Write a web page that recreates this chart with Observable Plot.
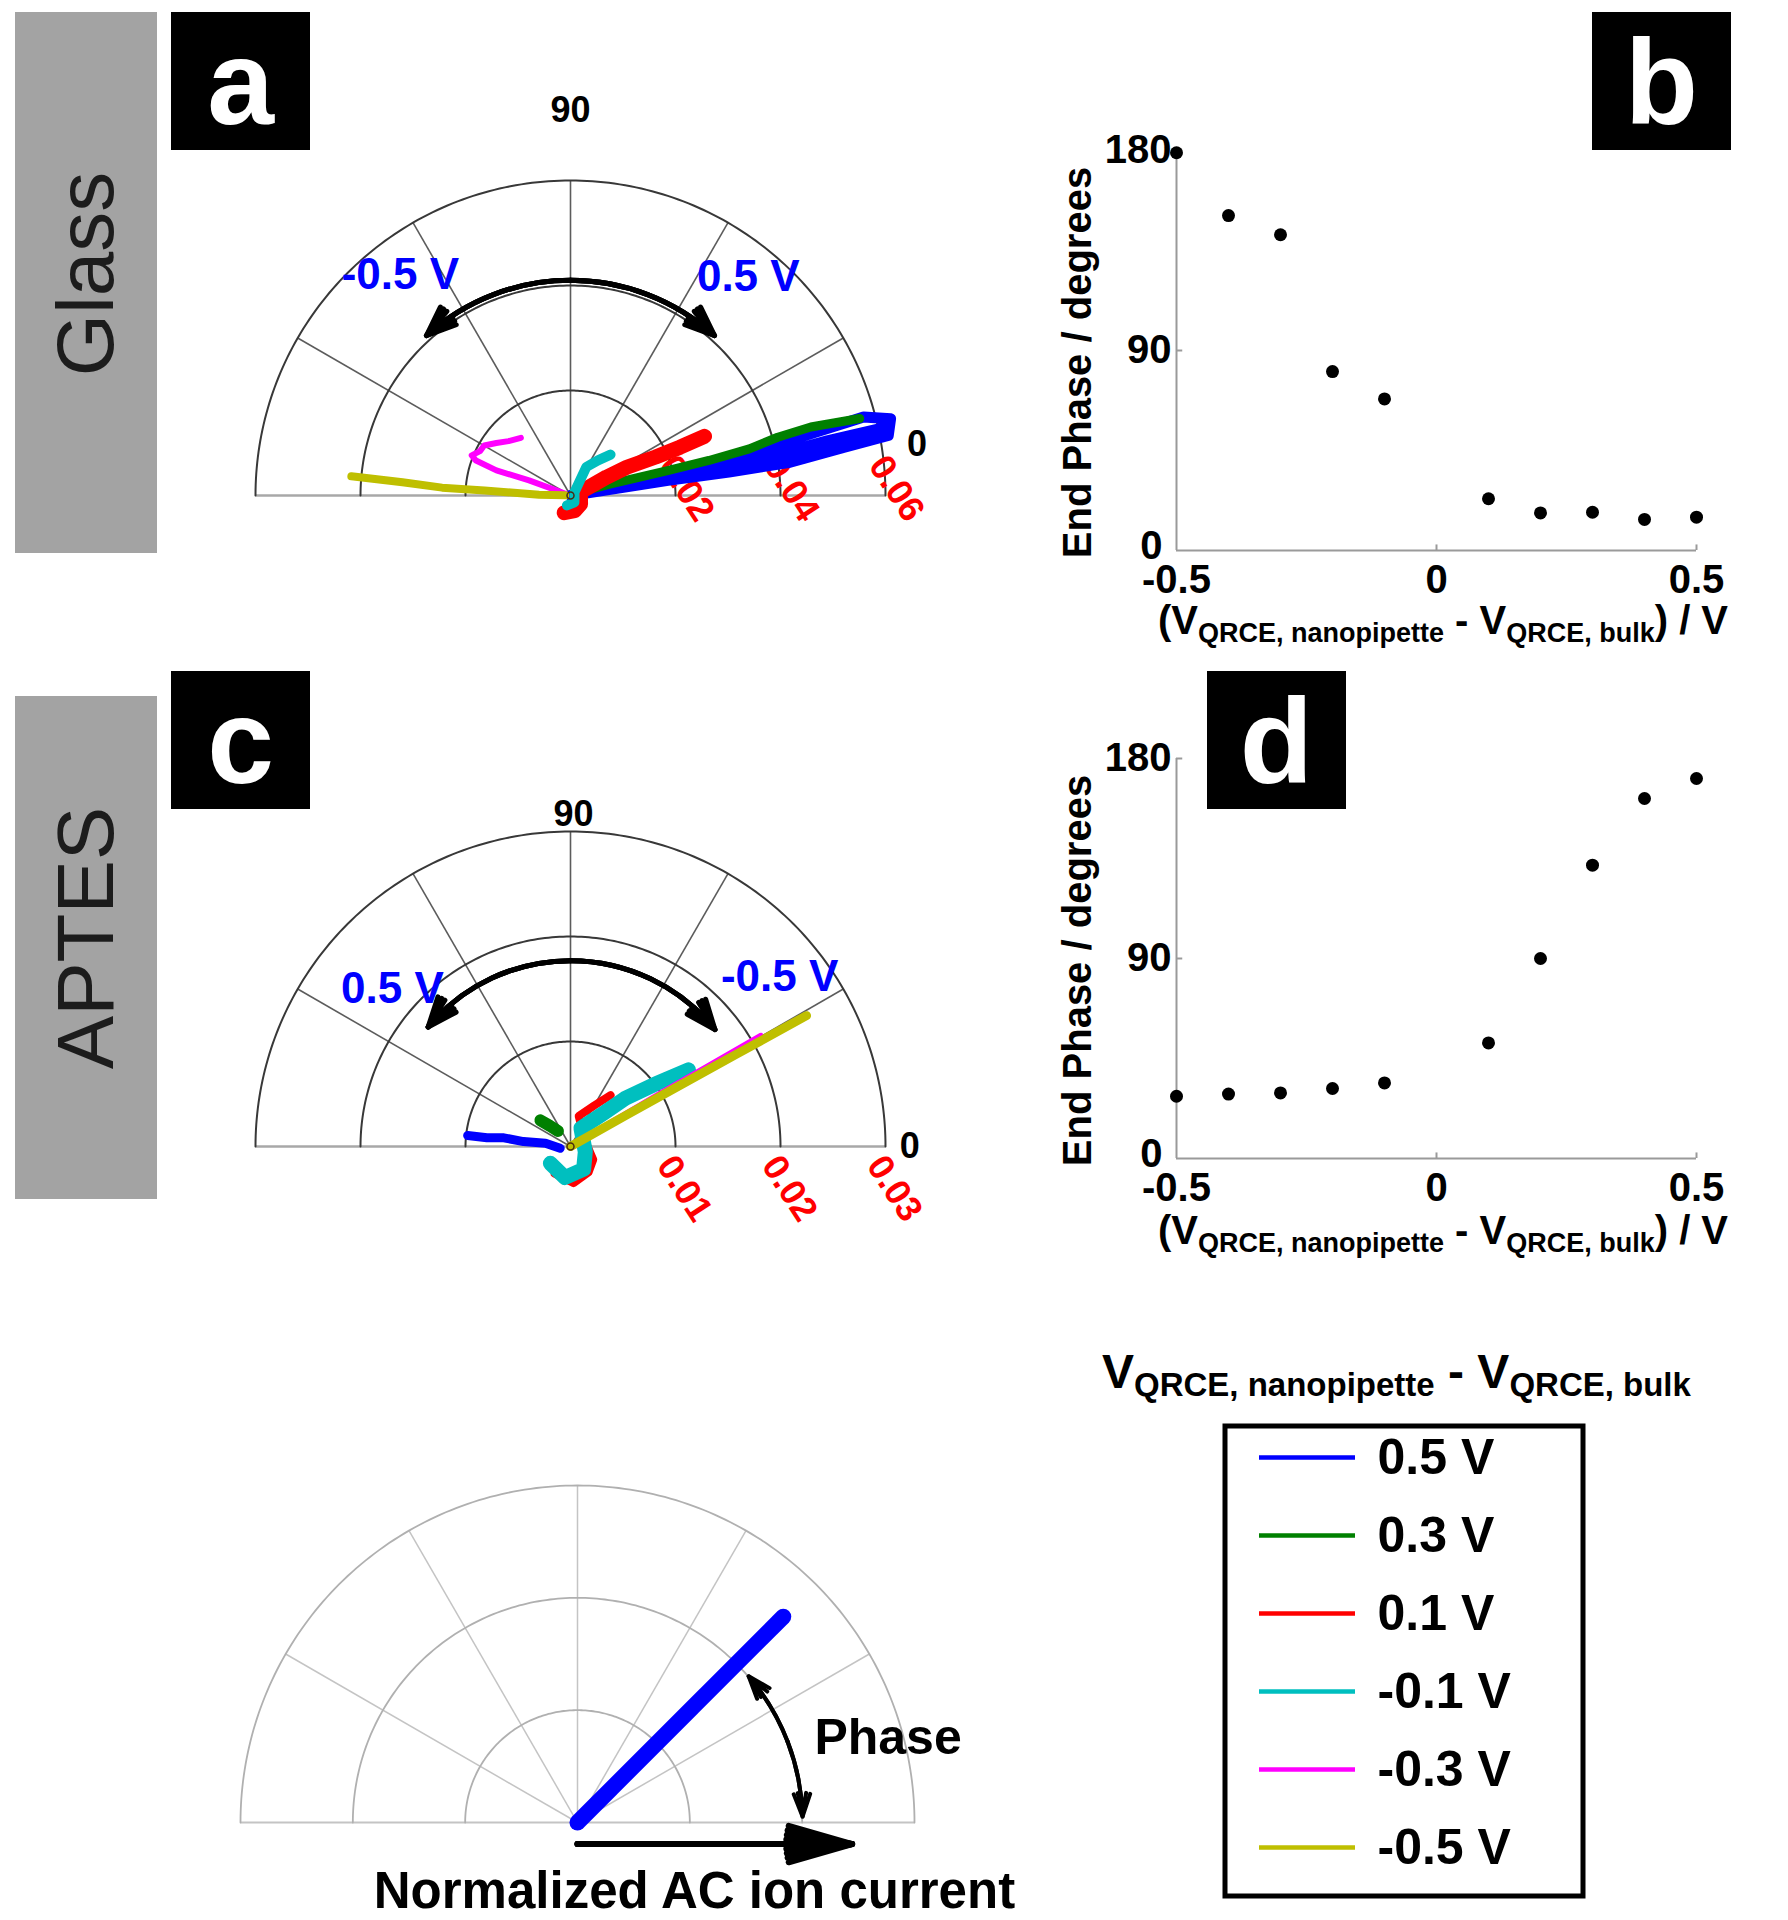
<!DOCTYPE html>
<html><head><meta charset="utf-8">
<script src="https://cdn.jsdelivr.net/npm/d3@7"></script>
<script src="https://cdn.jsdelivr.net/npm/@observablehq/plot@0.6"></script>
<style>
body{margin:0;background:#fff;}
#page{position:relative;width:1788px;height:1920px;overflow:hidden;background:#fff;font-family:"Liberation Sans",Arial,sans-serif;}
.side{position:absolute;background:#a3a3a3;}
.sideText{position:absolute;font-size:80px;color:#1c1c1c;white-space:nowrap;line-height:1;transform:translate(-50%,-50%) rotate(-90deg);}
.tag{position:absolute;background:#000;}
.tag span{position:absolute;left:50%;transform:translateX(-50%);line-height:1;color:#fff;font-weight:bold;font-size:120px;}
.lbl{position:absolute;font-weight:bold;white-space:nowrap;line-height:1;color:#000;}
</style></head><body><div id="page"></div>
<script>
// ---------- data ----------
const seriesLabels = ["0.5 V", "0.3 V", "0.1 V", "-0.1 V", "-0.3 V", "-0.5 V"];
const seriesColors = ["#0000ff", "#008000", "#ff0000", "#00bfbf", "#ff00ff", "#bfbf00"];

// Panel a (Glass): [normalized AC ion current, phase (deg)]
const glassTrace05  = [[0,10],[0.0188,8.8],[0.0305,8.4],[0.0423,8.6],[0.0528,10],[0.0616,10.7],[0.0627,13.5],[0.0578,15],[0.0472,14.4],[0.035,13.6],[0.0228,12],[0.012,10.5],[0.025,10.2],[0.038,11],[0.05,12],[0.061,12.2]];
const glassTrace03  = [[0.002,20],[0.008,16],[0.0191,14.4],[0.0272,14.2],[0.0352,14.6],[0.041,15.7],[0.0476,15.9],[0.057,14.9]];
const glassTrace01  = [[0.0035,250],[0.003,285],[0.0025,320],[0.002,20],[0.0077,27],[0.012,26.6],[0.0178,24.3],[0.0228,23.8],[0.0279,23.8]];
const glassTraceM01 = [[0.002,250],[0.0015,300],[0.001,40],[0.0062,61],[0.0085,52],[0.0109,45.6]];
const glassTraceM03 = [[0.001,160],[0.0084,160],[0.0149,161.3],[0.0192,159.7],[0.0203,157.9],[0.0192,153.9],[0.019,149.9],[0.0173,144.7],[0.0157,138.7],[0.0145,130.7]];
const glassTraceM05 = [[0.001,178],[0.006,178.5],[0.0164,176.7],[0.0245,176.5],[0.0321,175.5],[0.0419,175]];

// Panel c (APTES)
const aptesTrace05  = [[0.001,190],[0.0024,172.5],[0.0045,174],[0.0064,172.6],[0.008,174],[0.00985,173.9]];
const aptesTrace03  = [[0.0019,129],[0.0028,135],[0.0038,139]];
const aptesTrace01  = [[0.003,240],[0.0035,275],[0.003,305],[0.0025,330],[0.0015,20],[0.003,75],[0.0045,60],[0.0062,52]];
const aptesTraceM01 = [[0.0025,220],[0.003,260],[0.0025,300],[0.0015,340],[0.002,60],[0.0045,45],[0.0069,41.4],[0.01,36.4],[0.0134,33]];
const aptesTraceM03 = [[0,31],[0.005,31],[0.01,30.8],[0.015,30.5],[0.021,30.3]];
const aptesTraceM05 = [[0,29],[0.006,29.3],[0.012,29.2],[0.018,29.1],[0.0257,29]];

// Panels b, d
const biasV = [-0.5, -0.4, -0.3, -0.2, -0.1, 0.1, 0.2, 0.3, 0.4, 0.5];
const glassEndPhase = [179, 150.7, 142.1, 80.5, 68.2, 23.3, 16.9, 17.2, 14.0, 15.0];
const aptesEndPhase = [28, 29, 29.5, 31.5, 34, 52, 90, 132, 162, 171];

// ticks / grids
const glassRings = [0.02, 0.04, 0.06];
const aptesRings = [0.01, 0.02, 0.03];
const schematicRings = [1/3, 2/3, 1];
const spokeAngles = [30, 60, 90, 120, 150];
const phaseTicks = [90, 180];
const phaseZeroTick = [0];
const biasTicks = [-0.5, 0, 0.5];

// schematic example vector
const exampleVector = [{r: 0.8635, phase: 45}];

// ---------- helpers ----------
const FONT = "'Liberation Sans', Arial, sans-serif";
const page = document.getElementById("page");
const deg = Math.PI / 180;
const px = (r, t) => r * Math.cos(t * deg);
const py = (r, t) => r * Math.sin(t * deg);
const colorScale = {domain: seriesLabels, range: seriesColors};
const BEND = 1;

function place(node, left, top) {
  node.style.position = "absolute";
  node.style.left = left + "px";
  node.style.top = top + "px";
  page.appendChild(node);
}
function div(cls, left, top, w, h) {
  const d = document.createElement("div");
  d.className = cls;
  d.style.left = left + "px";
  d.style.top = top + "px";
  if (w != null) d.style.width = w + "px";
  if (h != null) d.style.height = h + "px";
  page.appendChild(d);
  return d;
}
function addLabel(parts, o) {
  const d = document.createElement("div");
  d.className = "lbl";
  d.style.fontSize = o.size + "px";
  d.style.left = o.left + "px";
  d.style.top = (o.baseline - 0.8465 * o.size) + "px";
  if (o.center) d.style.transform = "translateX(-50%)";
  parts.forEach(([txt, isSub]) => {
    const s = document.createElement("span");
    s.textContent = txt;
    if (isSub) { s.style.fontSize = o.subSize + "px"; s.style.position = "relative"; s.style.top = o.subShift + "px"; }
    d.appendChild(s);
  });
  page.appendChild(d);
}
function frameDomains(o) {
  const k = o.rPx / o.rMax;
  return {
    x: {domain: [(o.left - o.cx) / k, (o.left + o.width - o.cx) / k], axis: null},
    y: {domain: [(o.cy - o.top - o.height) / k, (o.cy - o.top) / k], axis: null}
  };
}
function gridMarks(R, rings, st) {
  const ringRows = rings.flatMap(r => d3.range(0, 181, 1).map(t => ({r, t})));
  return [
    Plot.link([R], {x1: r => -r, y1: 0, x2: r => r, y2: 0, stroke: st.axis, strokeWidth: st.axisW}),
    Plot.link(spokeAngles, {x1: 0, y1: 0, x2: t => px(R, t), y2: t => py(R, t), stroke: st.spoke, strokeWidth: st.spokeW}),
    Plot.line(ringRows, {x: d => px(d.r, d.t), y: d => py(d.r, d.t), z: "r", stroke: st.ring, strokeWidth: st.ringW})
  ];
}
function arcArrow(r, tFrom, tTo, opts) {
  const heads = opts.headAngles || [opts.headAngle || 60];
  return heads.map(h => Plot.arrow([{r, tFrom, tTo}], {
    x1: d => px(d.r, d.tFrom), y1: d => py(d.r, d.tFrom),
    x2: d => px(d.r, d.tTo), y2: d => py(d.r, d.tTo),
    bend: BEND * (tFrom - tTo) / 2, stroke: "black", strokeWidth: opts.sw,
    headLength: opts.headLength, headAngle: h
  }));
}

function polarPanel(o) {
  const R = o.rMax;
  const marks = gridMarks(R, o.rings, {axis: "#a8a8a8", axisW: 2.5, spoke: "#5c5c5c", spokeW: 1.6, ring: "#383838", ringW: 2});
  marks.push(Plot.text(o.rings, {x: r => r, y: 0, text: r => String(r), rotate: 57, dx: o.ringDx, dy: o.ringDy,
    fill: "#ff0000", fontSize: 36, fontWeight: "bold"}));
  o.traces.forEach(tr => marks.push(Plot.line(tr.points, {
    x: d => px(d[0], d[1]), y: d => py(d[0], d[1]), stroke: () => tr.label,
    strokeWidth: tr.width, strokeLinejoin: "round", strokeLinecap: "round"
  })));
  marks.push(Plot.dot([0], {x: 0, y: 0, r: 3.5, stroke: "#4a2a10", strokeWidth: 1.5, fill: "none"}));
  marks.push(Plot.text(o.angleLabels, {x: d => px(d.r, d.t), y: d => py(d.r, d.t), text: "text", fontSize: 36, fontWeight: "bold", fill: "black"}));
  marks.push(Plot.text(o.voltLabels, {x: d => px(d.r, d.t), y: d => py(d.r, d.t), text: "text", fontSize: 44, fontWeight: "bold", fill: "#0000ff"}));
  const A = o.arrow;
  marks.push(...arcArrow(A.r, A.tMid, A.tRight, {sw: 5, headLength: 9.5, headAngles: [16, 30, 44]}));
  marks.push(...arcArrow(A.r, A.tMid, A.tLeft, {sw: 5, headLength: 9.5, headAngles: [16, 30, 44]}));
  const dom = frameDomains(o);
  const chart = Plot.plot({
    width: o.width, height: o.height, margin: 0, x: dom.x, y: dom.y, color: colorScale,
    style: {fontFamily: FONT, overflow: "visible", background: "transparent"}, marks
  });
  place(chart, o.left, o.top);
}

function scatterPanel(o) {
  const rows = biasV.map((v, i) => ({v, phase: o.values[i]}));
  const chart = Plot.plot({
    width: 788, height: 560, marginLeft: 176, marginRight: 92, marginTop: o.mt, marginBottom: 560 - o.mt - 400,
    x: {domain: [-0.5, 0.5]}, y: {domain: [0, 180]},
    style: {fontFamily: FONT, fontSize: "40px", fontWeight: "bold", overflow: "visible", background: "transparent"},
    marks: [
      Plot.ruleY([0], {stroke: "#9a9a9a", strokeWidth: 2}),
      Plot.ruleX([-0.5], {stroke: "#9a9a9a", strokeWidth: 2}),
      Plot.ruleX([0, 0.5], {y1: 0, y2: 2.5, stroke: "#9a9a9a", strokeWidth: 2}),
      Plot.ruleY([90, 180], {x1: -0.5, x2: -0.488, stroke: "#9a9a9a", strokeWidth: 2}),
      Plot.axisX({ticks: biasTicks, tickFormat: d => String(d), tickSize: 0, tickPadding: 14, fontSize: 40, fontWeight: "bold", label: null}),
      Plot.axisY({ticks: phaseTicks, tickFormat: d => String(d), tickSize: 0, tickPadding: 5, fontSize: 40, fontWeight: "bold", label: null}),
      Plot.axisY({ticks: phaseZeroTick, tickFormat: d => String(d), tickSize: 0, tickPadding: 14, dy: -4, fontSize: 40, fontWeight: "bold", label: null}),
      Plot.dot(rows, {x: "v", y: "phase", r: 6.5, fill: "black"}),
      Plot.text(["End Phase / degrees"], {text: d => d, frameAnchor: "left", textAnchor: "middle", dx: -98, dy: 12, rotate: -90, fontSize: 40, fontWeight: "bold"})
    ]
  });
  place(chart, 1000, o.top);
  addLabel([["(V", false], ["QRCE, nanopipette", true], [" - V", false], ["QRCE, bulk", true], [") / V", false]],
    {left: 1443, baseline: o.xlabBase, size: 40, subSize: 27, subShift: 8, center: true});
}

// ---------- side boxes ----------
div("side", 15, 12, 142, 541);
div("side", 15, 696, 142, 503);
div("sideText", 86, 274).textContent = "Glass";
div("sideText", 86, 938).textContent = "APTES";

// ---------- panels ----------
polarPanel({
  left: 160, top: 60, width: 830, height: 500, cx: 570, cy: 495, rPx: 315, rMax: 0.06,
  rings: glassRings, ringDx: 11, ringDy: -7,
  traces: [
    {label: seriesLabels[0], points: glassTrace05, width: 11},
    {label: seriesLabels[1], points: glassTrace03, width: 9},
    {label: seriesLabels[2], points: glassTrace01, width: 15},
    {label: seriesLabels[3], points: glassTraceM01, width: 10},
    {label: seriesLabels[4], points: glassTraceM03, width: 6},
    {label: seriesLabels[5], points: glassTraceM05, width: 8}
  ],
  angleLabels: [{text: "90", r: 0.0733, t: 90}, {text: "0", r: 0.0667, t: 8.4}],
  voltLabels: [{text: "-0.5 V", r: 0.0531, t: 127.6}, {text: "0.5 V", r: 0.0537, t: 50.9}],
  arrow: {r: 0.041, tMid: 90, tRight: 48, tLeft: 132}
});
polarPanel({
  left: 160, top: 770, width: 830, height: 500, cx: 570, cy: 1146, rPx: 315, rMax: 0.03,
  rings: aptesRings, ringDx: 9, ringDy: 42,
  traces: [
    {label: seriesLabels[0], points: aptesTrace05, width: 9},
    {label: seriesLabels[1], points: aptesTrace03, width: 12},
    {label: seriesLabels[2], points: aptesTrace01, width: 8},
    {label: seriesLabels[3], points: aptesTraceM01, width: 15},
    {label: seriesLabels[4], points: aptesTraceM03, width: 5},
    {label: seriesLabels[5], points: aptesTraceM05, width: 9}
  ],
  angleLabels: [{text: "90", r: 0.0316, t: 89.5}, {text: "0", r: 0.0323, t: 0}],
  voltLabels: [{text: "0.5 V", r: 0.02267, t: 138.4}, {text: "-0.5 V", r: 0.02566, t: 39.1}],
  arrow: {r: 0.0177, tMid: 90, tRight: 39, tLeft: 140}
});

scatterPanel({top: 100, mt: 50, values: glassEndPhase, xlabBase: 634});
scatterPanel({top: 700, mt: 58, values: aptesEndPhase, xlabBase: 1244});

// ---------- schematic ----------
(function () {
  const o = {left: 200, top: 1440, width: 850, height: 480, cx: 577, cy: 1822, rPx: 337, rMax: 1};
  const dom = frameDomains(o);
  const marks = gridMarks(1, schematicRings, {axis: "#c4c4c4", axisW: 1.8, spoke: "#c4c4c4", spokeW: 1.5, ring: "#b0b0b0", ringW: 1.8});
  marks.push(Plot.link(exampleVector, {x1: 0, y1: 0, x2: d => px(d.r, d.phase), y2: d => py(d.r, d.phase),
    stroke: "#0000ff", strokeWidth: 16, strokeLinecap: "round"}));
  marks.push(...arcArrow(0.668, 21, 1.5, {sw: 4, headLength: 9, headAngles: [20, 40]}));
  marks.push(...arcArrow(0.668, 21, 40.5, {sw: 4, headLength: 9, headAngles: [20, 40]}));
  [8, 16, 24, 32].forEach(h => marks.push(Plot.arrow([{x1: 0, x2: 0.815, y: -0.064}], {
    x1: "x1", x2: "x2", y1: "y", y2: "y", stroke: "black", strokeWidth: 6, headLength: 16.5, headAngle: h})));
  marks.push(Plot.text(["Phase"], {x: 0.703, y: 0.252, text: d => d, textAnchor: "start", fontSize: 50, fontWeight: "bold"}));
  marks.push(Plot.text(["Normalized AC ion current"], {x: 0.347, y: -0.205, text: d => d, fontSize: 51, fontWeight: "bold"}));
  const chart = Plot.plot({width: o.width, height: o.height, margin: 0, x: dom.x, y: dom.y,
    style: {fontFamily: FONT, overflow: "visible", background: "transparent"}, marks});
  place(chart, o.left, o.top);
})();

// ---------- legend ----------
addLabel([["V", false], ["QRCE, nanopipette", true], [" - V", false], ["QRCE, bulk", true]],
  {left: 1102, baseline: 1389, size: 48, subSize: 33, subShift: 8, center: false});
(function () {
  const chart = Plot.plot({
    width: 363, height: 475, margin: 0,
    x: {domain: [0, 363], axis: null},
    y: {type: "point", domain: seriesLabels, range: [33, 424], padding: 0, axis: null},
    color: colorScale,
    style: {fontFamily: FONT, overflow: "visible", background: "transparent"},
    marks: [
      Plot.frame({stroke: "black", strokeWidth: 5, inset: 2.5}),
      Plot.ruleY(seriesLabels, {y: d => d, x1: 37, x2: 133, stroke: d => d, strokeWidth: 4.5}),
      Plot.text(seriesLabels, {y: d => d, x: 155, text: d => d, textAnchor: "start", fontSize: 50, fontWeight: "bold", fill: "black"})
    ]
  });
  place(chart, 1222, 1423);
})();

// ---------- tags ----------
[["a", 171, 12], ["b", 1592, 12], ["c", 171, 671], ["d", 1207, 671]].forEach(([t, l, tp]) => {
  const d = div("tag", l, tp, 139, 138);
  const s = document.createElement("span");
  s.textContent = t;
  s.style.top = (112 - 0.8465 * 120) + "px";
  d.appendChild(s);
});
</script></body></html>
